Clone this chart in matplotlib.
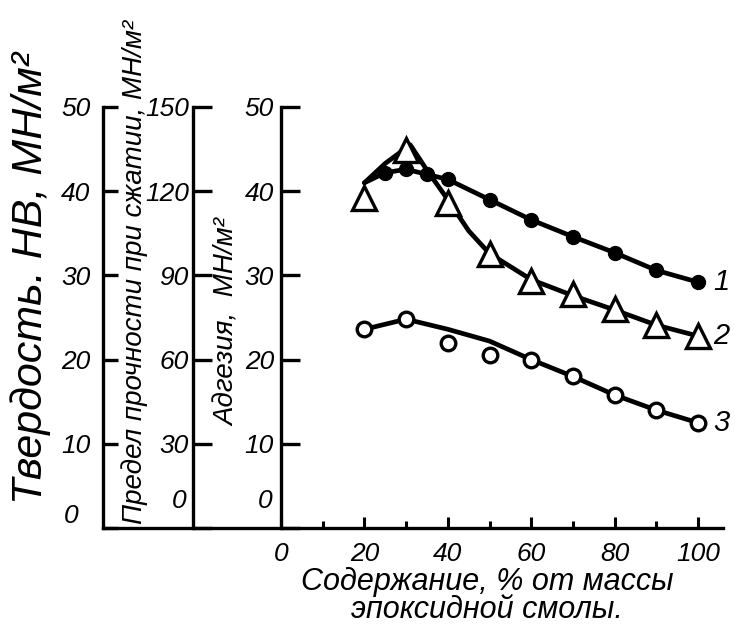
import matplotlib
matplotlib.use('Agg')
import matplotlib.pyplot as plt

plt.rcParams['font.family'] = ['Liberation Sans', 'DejaVu Sans']
plt.rcParams['font.style'] = 'italic'

# ---- данные ----
# 1 - чёрные кружки, 2 - треугольники, 3 - светлые кружки
x1 = [25, 30, 35, 40, 50, 60, 70, 80, 90, 100]
y1 = [42.2, 42.6, 42.0, 41.4, 39.0, 36.6, 34.6, 32.7, 30.6, 29.2]
fit_x1 = [20, 25, 30, 35, 40, 50, 60, 70, 80, 90, 100]
fit_y1 = [41.0, 42.2, 42.6, 42.0, 41.4, 39.0, 36.6, 34.6, 32.7, 30.6, 29.2]

x2 = [20, 30, 40, 50, 60, 70, 80, 90, 100]
y2 = [39.2, 44.9, 38.6, 32.5, 29.3, 27.8, 26.0, 24.1, 22.8]
fit_x2 = [20, 25, 31, 35, 40, 45, 50, 60, 70, 80, 90, 100]
fit_y2 = [41.0, 43.3, 45.5, 42.5, 39.0, 35.3, 32.6, 29.5, 27.6, 25.9, 24.1, 22.8]

x3 = [20, 30, 40, 50, 60, 70, 80, 90, 100]
y3 = [23.6, 24.8, 22.0, 20.6, 20.0, 18.0, 15.8, 14.0, 12.5]
fit_x3 = [20, 30, 40, 50, 60, 70, 80, 90, 100]
fit_y3 = [23.6, 24.8, 23.6, 22.2, 20.0, 18.0, 15.8, 14.0, 12.5]

hard_ticks = [0, 10, 20, 30, 40, 50]
comp_ticks = [0, 30, 60, 90, 120, 150]
adh_ticks = [0, 10, 20, 30, 40, 50]
x_major = [0, 20, 40, 60, 80, 100]
x_minor = [10, 30, 50, 70, 90]
curve_names = ['1', '2', '3']

# ---- геометрия ----
W, H = 735, 637
fig = plt.figure(figsize=(W / 100, H / 100), dpi=100)
y_bot = 528
y_top = 107
px_per_x = 4.17
x0_px = 281
x_right = 723
fs = 19


def fx(px):
    return px / W


def fy(py):
    return 1 - py / H


ax_b = fy(y_bot)
ax_h = (y_bot - y_top) / H
lw = 2.4

# ось твердости (с нижней линией)
ax_hard = fig.add_axes([fx(103), ax_b, fx(x_right - 103), ax_h])
ax_hard.set_ylim(0, 50)
ax_hard.set_xlim(0, 1)
for s in ['top', 'right']:
    ax_hard.spines[s].set_visible(False)
ax_hard.spines['left'].set_linewidth(lw)
ax_hard.spines['bottom'].set_linewidth(lw)
ax_hard.set_xticks([])
ax_hard.set_yticks(hard_ticks, [str(t) if t else '' for t in hard_ticks])
ax_hard.tick_params(axis='y', direction='in', length=11, width=lw, pad=9, labelsize=fs)
ax_hard.patch.set_alpha(0)

# ось предела прочности
ax_comp = fig.add_axes([fx(193), ax_b, fx(x_right - 193), ax_h])
ax_comp.set_ylim(0, 150)
for s in ['top', 'right', 'bottom']:
    ax_comp.spines[s].set_visible(False)
ax_comp.spines['left'].set_linewidth(lw)
ax_comp.set_xticks([])
ax_comp.set_yticks(comp_ticks, [str(t) if t else '' for t in comp_ticks])
ax_comp.tick_params(axis='y', direction='in', length=14, width=lw, pad=3, labelsize=fs)
ax_comp.patch.set_alpha(0)

# основная ось (адгезия)
ax = fig.add_axes([fx(x0_px), ax_b, fx(x_right - x0_px), ax_h])
ax.set_xlim(0, (x_right - x0_px) / px_per_x)
ax.set_ylim(0, 50)
for s in ['top', 'right', 'bottom']:
    ax.spines[s].set_visible(False)
ax.spines['left'].set_linewidth(lw)
ax.patch.set_alpha(0)
ax.set_yticks(adh_ticks, [str(t) if t else '' for t in adh_ticks])
ax.tick_params(axis='y', direction='in', length=14, width=lw, pad=5, labelsize=fs)
ax.set_xticks(x_major, [str(t) for t in x_major])
ax.set_xticks(x_minor, minor=True)
ax.tick_params(axis='x', which='major', direction='in', length=8, width=2.2, pad=10, labelsize=fs)
ax.tick_params(axis='x', which='minor', direction='in', length=5, width=2.2)

# нулевые подписи немного выше оси
ax_hard.text(-0.04, 0, '0', transform=ax_hard.transAxes, fontsize=fs,
             ha='right', va='bottom')
ax_comp.text(-0.012, 0.035, '0', transform=ax_comp.transAxes, fontsize=fs,
             ha='right', va='bottom')
ax.text(-0.02, 0.035, '0', transform=ax.transAxes, fontsize=fs, ha='right', va='bottom')

# кривые
ax.plot(fit_x1, fit_y1, color='black', lw=3.4, solid_capstyle='round', zorder=3)
ax.plot(x1, y1, 'o', color='black', ms=10, zorder=4)
ax.plot(fit_x2, fit_y2, color='black', lw=3.4, solid_capstyle='round', zorder=3)
ax.plot(x2, y2, '^', mfc='white', mec='black', mew=2.4, ms=17, zorder=5)
ax.plot(fit_x3, fit_y3, color='black', lw=3.4, solid_capstyle='round', zorder=3)
ax.plot(x3, y3, 'o', mfc='white', mec='black', mew=2.4, ms=10.5, zorder=4)

for name, xs, ys in zip(curve_names, [x1, x2, x3], [y1, y2, y3]):
    ax.annotate(name, (xs[-1], ys[-1]), xytext=(11, 0), textcoords='offset points',
                fontsize=21, va='center', ha='left', annotation_clip=False)

# подписи осей
fig.text(fx(31), fy(278), 'Твердость. HB, МН/м²', rotation=90, fontsize=31,
         ha='center', va='center')
fig.text(fx(135), fy(272), 'Предел прочности при сжатии, МН/м²', rotation=90,
         fontsize=20, ha='center', va='center')
fig.text(fx(228), fy(322), 'Адгезия,  МН/м²', rotation=90, fontsize=20,
         ha='center', va='center')
fig.text(fx(487), fy(596), 'Содержание, % от массы\nэпоксидной смолы.', fontsize=22,
         ha='center', va='center', linespacing=0.92)

fig.savefig('out.png', dpi=100)
